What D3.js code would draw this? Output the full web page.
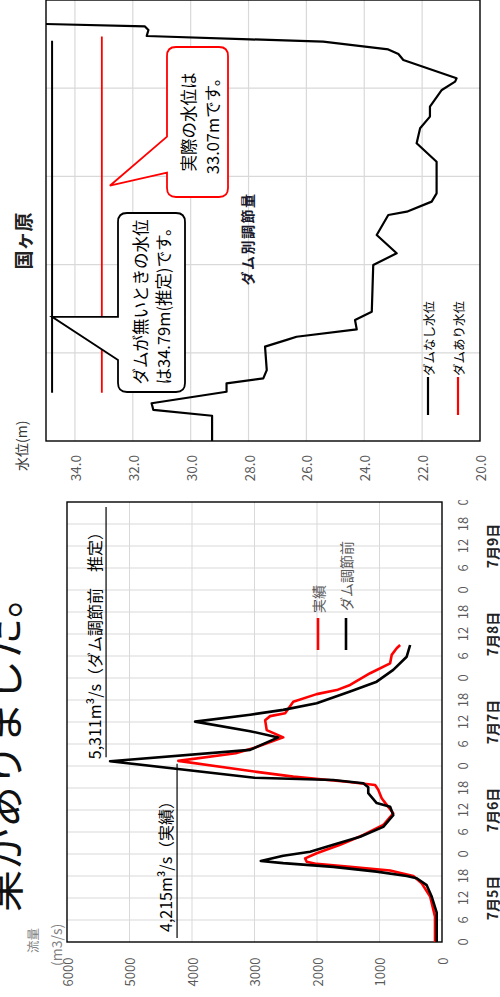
<!DOCTYPE html>
<html><head><meta charset="utf-8">
<script src="https://cdn.jsdelivr.net/npm/d3@7"></script>
<style>
body{margin:0;background:#fff;}
svg{display:block;}
text{font-family:"Noto Sans CJK JP","Noto Sans",sans-serif;}
</style>
</head><body>
<svg id="c" width="500" height="997"></svg>
<script>
// ---------- Flow chart data (hours since 7/5 0:00) ----------
const dayLabels = ["7月5日","7月6日","7月7日","7月8日","7月9日"];
const flowTicks = [0,1000,2000,3000,4000,5000,6000];
const hourTicks = d3.range(0,121,6);

const beforeHours = [0,8,12.4,15.5,17.4,18,19.2,20.5,21.5,22.1,23.5,24.6,26.5,28.7,31.4,34.6,36.9,37.9,40.6,42.2,43.3,44.2,44.8,49.3,52.4,55.8,57.5,60.1,62,63.3,65.1,68.3,71,74.2,77.8,81];
const beforeFlow  = [85,85,165,245,405,565,1045,1740,2540,2900,2540,2110,1740,1310,940,780,830,1045,1180,1180,1260,1740,3000,5311,3070,2620,3070,3950,3070,2540,2005,1470,1045,780,565,510];

const actualHours = [0,6.9,12.4,16,18,19.5,20.5,21.3,21.9,22.8,24.2,26.5,29.2,31.9,35.1,37.4,39.2,41.5,42.8,43.7,45.1,46.4,49.4,51.5,53,55.8,57.8,60.5,61.6,62.4,65.5,67.6,68.7,70.1,73.3,76,78.3,80.1,81];
const actualFlow  = [112,112,190,325,460,830,1470,2005,2165,2190,2005,1630,1260,940,780,885,965,1020,1070,1525,2380,2965,4219,3300,3000,2540,2805,2830,2750,2510,2380,2005,1685,1470,1150,830,805,725,670];

// ---------- Cross-section data ----------
const levelTicks = [20,22,24,26,28,30,32,34];
const distGrid = [50,100,150,200];
const sectionDist = [0,14.3,17.6,21.4,27.9,32.7,35.5,40.2,53.5,57.3,59.1,63.3,68.6,73.3,99.8,106.4,116.8,128.1,130,135.7,140.4,158.3,168.8,177.3,183.9,189.5,199,203.7,205.6,216,219.4,222,226.4,227.7,229.6,233,235,236.4];
const sectionElev = [29.26,29.26,31.29,31.35,28.76,28.76,27.49,27.37,27.43,26.68,26.34,24.26,24.32,23.74,23.69,22.88,23.57,23.17,22.53,21.67,21.50,21.50,22.19,22.07,21.73,21.73,21.32,20.86,20.81,22.65,22.82,23.17,25.42,27.95,31.52,31.46,31.58,35.0];
const levelNoDam = 34.79, levelDam = 33.07;
const levelNoDamRange = [27.4,226.9];
const levelDamRange = [27.4,229.3];
const peakBefore = 5311, peakActual = 4215;

const svg = d3.select("#c");
const defs = svg.append("defs");
defs.append("clipPath").attr("id","clipL").append("rect").attr("x",-10).attr("y",-60).attr("width",507).attr("height",600);
const root = svg.append("g").attr("transform","translate(0,997) rotate(-90)");

// ---------- big caption (cut off) ----------
root.append("text").attr("x",85).attr("y",19).attr("font-size",42).attr("fill","#111")
  .text("果がありました。");

// ---------- Flow chart ----------
const L = root.append("g").attr("clip-path","url(#clipL)");
const xF = d3.scaleLinear().domain([0,120]).range([55,495]);
const yF = d3.scaleLinear().domain([0,6000]).range([442,67]);
const grid = "#d9d9d9";
L.append("g").selectAll("line").data(hourTicks.filter(h=>h>0&&h<120)).join("line")
  .attr("x1",d=>xF(d)).attr("x2",d=>xF(d)).attr("y1",yF(6000)).attr("y2",yF(0))
  .attr("stroke",grid).attr("stroke-width",1);
L.append("g").selectAll("line").data(flowTicks.filter(v=>v>0&&v<6000)).join("line")
  .attr("x1",xF(0)).attr("x2",xF(120)).attr("y1",d=>yF(d)).attr("y2",d=>yF(d))
  .attr("stroke",grid).attr("stroke-width",1);
L.append("rect").attr("x",xF(0)).attr("y",yF(6000)).attr("width",xF(120)-xF(0)).attr("height",yF(0)-yF(6000))
  .attr("fill","none").attr("stroke","#000").attr("stroke-width",1.4);

L.append("g").selectAll("text").data(flowTicks).join("text")
  .attr("x",39.5).attr("y",d=>yF(d)).attr("text-anchor","end").attr("dominant-baseline","central")
  .attr("font-size",13).attr("fill","#595959").text(d=>d);
L.append("g").selectAll("text").data(hourTicks).join("text")
  .attr("x",d=>xF(d)).attr("y",462).attr("text-anchor","middle").attr("dominant-baseline","central")
  .attr("font-size",13).attr("fill","#595959").text(d=>d%24);
L.append("g").selectAll("text").data(dayLabels).join("text")
  .attr("x",(d,i)=>xF(24*i+12)).attr("y",491.5).attr("text-anchor","middle").attr("dominant-baseline","central")
  .attr("font-size",14).attr("font-weight","bold").attr("fill","#222").text(d=>d);
L.append("text").attr("x",44).attr("y",32).attr("dominant-baseline","central").attr("font-size",12.5).attr("fill","#7f7f7f").text("流量");
L.append("text").attr("x",31).attr("y",56).attr("dominant-baseline","central").attr("font-size",14).attr("fill","#7f7f7f").text("(m3/s)");

const lineF = (hs,vs)=>d3.line().x((d,i)=>xF(hs[i])).y((d,i)=>yF(vs[i]))(hs);
L.append("path").attr("d",lineF(actualHours,actualFlow)).attr("fill","none").attr("stroke","#ff0000").attr("stroke-width",2.6).attr("stroke-linejoin","round");
L.append("path").attr("d",lineF(beforeHours,beforeFlow)).attr("fill","none").attr("stroke","#000").attr("stroke-width",2.6).attr("stroke-linejoin","round");

// annotations
const pkB = beforeHours[beforeFlow.indexOf(peakBefore)];
const pkA = actualHours[actualFlow.indexOf(4219)];
L.append("line").attr("x1",xF(pkB)+4).attr("x2",490).attr("y1",yF(peakBefore)-4).attr("y2",yF(peakBefore)-4).attr("stroke","#000").attr("stroke-width",1.2);
L.append("text").attr("x",xF(pkB)+2).attr("y",yF(peakBefore)-9).attr("font-size",16).attr("fill","#000")
  .text("5,311m³/s（ダム調節前　推定）");
L.append("line").attr("x1",59).attr("x2",xF(pkA)-3).attr("y1",yF(peakActual)-1.5).attr("y2",yF(peakActual)-1.5).attr("stroke","#000").attr("stroke-width",1.2);
L.append("text").attr("x",65).attr("y",yF(peakActual)-7).attr("font-size",16).attr("fill","#000")
  .text("4,215m³/s（実績）");

// legend
L.append("line").attr("x1",347).attr("x2",379).attr("y1",318).attr("y2",318).attr("stroke","#ff0000").attr("stroke-width",2.6);
L.append("text").attr("x",384).attr("y",318).attr("dominant-baseline","central").attr("font-size",14).attr("fill","#595959").text("実績");
L.append("line").attr("x1",347).attr("x2",379).attr("y1",346).attr("y2",346).attr("stroke","#000").attr("stroke-width",2.6);
L.append("text").attr("x",386).attr("y",346).attr("dominant-baseline","central").attr("font-size",14).attr("fill","#595959").text("ダム調節前");

// ---------- Cross-section chart ----------
const R = root.append("g");
const xR = d3.scaleLinear().domain([0,250]).range([556,997]);
const yR = d3.scaleLinear().domain([20,35]).range([480,46]);
R.append("g").selectAll("line").data(distGrid).join("line")
  .attr("x1",d=>xR(d)).attr("x2",d=>xR(d)).attr("y1",yR(35)).attr("y2",yR(20)).attr("stroke",grid).attr("stroke-width",1.2);
R.append("g").selectAll("line").data(levelTicks.filter(v=>v>20)).join("line")
  .attr("x1",xR(0)).attr("x2",xR(250)).attr("y1",d=>yR(d)).attr("y2",d=>yR(d)).attr("stroke",grid).attr("stroke-width",1.2);
R.append("rect").attr("x",xR(0)).attr("y",yR(35)).attr("width",xR(250)-xR(0)).attr("height",yR(20)-yR(35))
  .attr("fill","none").attr("stroke","#000").attr("stroke-width",1.4);
R.append("g").selectAll("text").data(levelTicks).join("text")
  .attr("x",542).attr("y",d=>yR(d)).attr("text-anchor","end").attr("dominant-baseline","central")
  .attr("font-size",13.5).attr("fill","#595959").text(d=>d.toFixed(1));
R.append("text").attr("x",526).attr("y",21).attr("dominant-baseline","central").attr("font-size",14).attr("fill","#333").text("水位(m)");
R.append("text").attr("x",756).attr("y",22).attr("text-anchor","middle").attr("dominant-baseline","central").attr("font-size",19).attr("font-weight","bold").attr("fill","#222").text("国ヶ原");

// water levels
R.append("line").attr("x1",xR(levelNoDamRange[0])).attr("x2",xR(levelNoDamRange[1])).attr("y1",yR(levelNoDam)).attr("y2",yR(levelNoDam)).attr("stroke","#000").attr("stroke-width",2);
R.append("line").attr("x1",xR(levelDamRange[0])).attr("x2",xR(levelDamRange[1])).attr("y1",yR(levelDam)).attr("y2",yR(levelDam)).attr("stroke","#ff0000").attr("stroke-width",1.8);

// section
R.append("path").attr("d",d3.line().x((d,i)=>xR(sectionDist[i])).y((d,i)=>yR(sectionElev[i]))(sectionDist))
  .attr("fill","none").attr("stroke","#000").attr("stroke-width",2.2).attr("stroke-linejoin","round");

// callouts
function callout(x0,y0,x1,y1,r,bA,bB,tx,ty){
  return `M${x0+r},${y0} L${bA},${y0} L${tx},${ty} L${bB},${y0} L${x1-r},${y0} Q${x1},${y0} ${x1},${y0+r} L${x1},${y1-r} Q${x1},${y1} ${x1-r},${y1} L${x0+r},${y1} Q${x0},${y1} ${x0},${y1-r} L${x0},${y0+r} Q${x0},${y0} ${x0+r},${y0} Z`;
}
R.append("path").attr("d",callout(605,118,784,185,9,637,xR(70.4),xR(70.4),yR(levelNoDam)))
  .attr("fill","#fff").attr("stroke","#000").attr("stroke-width",1.8);
R.append("text").attr("x",695).attr("y",140).attr("text-anchor","middle").attr("dominant-baseline","central").attr("font-size",16.5).attr("fill","#000").text("ダムが無いときの水位");
R.append("text").attr("x",695).attr("y",163).attr("text-anchor","middle").attr("dominant-baseline","central").attr("font-size",16.5).attr("fill","#000").text("は34.79m(推定)です。");

R.append("path").attr("d",callout(800,167,950,228,9,824.3,860.3,811.3,yR(levelDam)+8))
  .attr("fill","#fff").attr("stroke","#ff0000").attr("stroke-width",1.8);
R.append("text").attr("x",875).attr("y",187.5).attr("text-anchor","middle").attr("dominant-baseline","central").attr("font-size",16.5).attr("fill","#000").text("実際の水位は");
R.append("text").attr("x",875).attr("y",212).attr("text-anchor","middle").attr("dominant-baseline","central").attr("font-size",16.5).attr("fill","#000").text("33.07mです。");

R.append("text").attr("x",758).attr("y",247).attr("text-anchor","middle").attr("dominant-baseline","central").attr("font-size",14).attr("font-weight","600").attr("letter-spacing",1.5).attr("fill","#1a1a2e").text("ダム別調節量");

// legend
R.append("line").attr("x1",582).attr("x2",620).attr("y1",428).attr("y2",428).attr("stroke","#000").attr("stroke-width",2.2);
R.append("text").attr("x",621).attr("y",428).attr("dominant-baseline","central").attr("font-size",12.5).attr("fill","#000").text("ダムなし水位");
R.append("line").attr("x1",582).attr("x2",620).attr("y1",458).attr("y2",458).attr("stroke","#ff0000").attr("stroke-width",2.2);
R.append("text").attr("x",621).attr("y",458).attr("dominant-baseline","central").attr("font-size",12.5).attr("fill","#000").text("ダムあり水位");
</script>
</body></html>
